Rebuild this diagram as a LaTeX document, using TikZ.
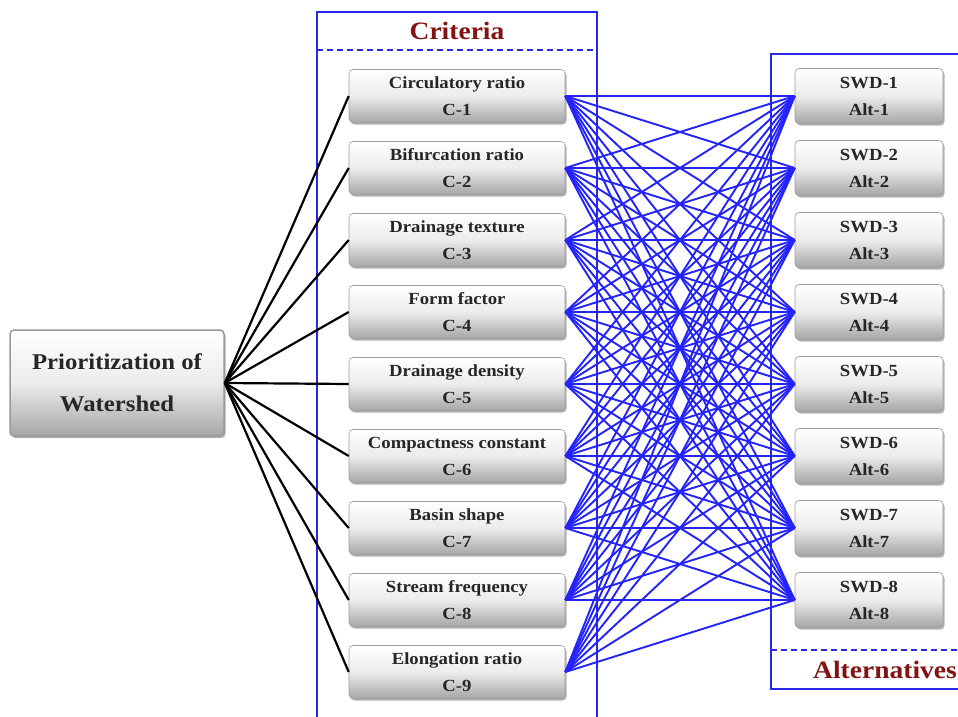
\documentclass[tikz,border=0pt]{standalone}
\usepackage{fontspec}
\setmainfont{Liberation Serif}[FakeStretch=1.1]
\usetikzlibrary{shadows}
\definecolor{framecol}{RGB}{40,40,230}
\definecolor{linecol}{RGB}{35,35,250}
\definecolor{titlecol}{RGB}{130,20,20}
\tikzset{
  gbox/.style={rounded corners=4pt, draw=gray!75, line width=0.6pt,
    top color=white, bottom color=gray!70, middle color=gray!15,
    drop shadow={shadow xshift=1.5pt, shadow yshift=-2pt, opacity=0.6},
    align=center, text=black!85, font=\bfseries\fontsize{17}{27}\selectfont, inner sep=0pt},
  crit/.style={gbox, minimum width=216pt, minimum height=53pt},
  alt/.style={gbox, minimum width=148pt, minimum height=55pt},
  mainbox/.style={gbox, draw=gray!80, line width=1.5pt, minimum width=214pt, minimum height=106pt,
    font=\bfseries\fontsize{22.5}{42}\selectfont},
  frame/.style={draw=framecol, line width=1.8pt},
  dline/.style={draw=framecol, line width=1.8pt, dash pattern=on 6pt off 4pt},
  blk/.style={draw=black, line width=2.2pt},
  blu/.style={draw=linecol, line width=1.9pt},
  ttl/.style={text=titlecol, font=\bfseries\fontsize{25}{27}\selectfont}
}
\begin{document}
\begin{tikzpicture}[x=1pt,y=-1pt]
\useasboundingbox[fill=white] (0,0) rectangle (958,717);
% frames
\draw[frame] (317,730) -- (317,12) -- (597,12) -- (597,730);
\draw[dline] (317,50) -- (597,50);
\node[ttl] (ct) at (457,31) {Criteria};
\draw[frame] (975,54) -- (771,54) -- (771,689) -- (975,689);
\draw[dline] (771,650) -- (958,650);
\node[ttl] (at) at (885,670) {Alternatives};
% main
\node[mainbox] (P) at (117,383) {Prioritization of\\Watershed};
% criteria
\foreach \t [count=\i] in {Circulatory ratio,Bifurcation ratio,Drainage texture,Form factor,Drainage density,Compactness constant,Basin shape,Stream frequency,Elongation ratio}{
  \node[crit] (C\i) at (457,{96+72*(\i-1)}) {\t\\C-\i};
}
\foreach \i in {1,...,8}{
  \node[alt] (A\i) at (869,{96+72*(\i-1)}) {SWD-\i\\Alt-\i};
}
\foreach \i in {1,...,9}{
  \draw[blk] (P.east) -- (C\i.west);
  \foreach \j in {1,...,8}{
    \draw[blu] (C\i.east) -- (A\j.west);
  }
}
\end{tikzpicture}
\end{document}
